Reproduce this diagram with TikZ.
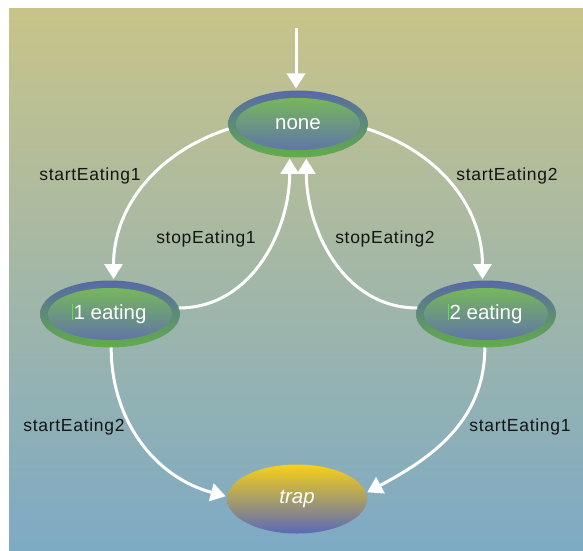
\documentclass[tikz,border=0pt]{standalone}
\usepackage{fontspec}
\setmainfont{Liberation Sans}
\usetikzlibrary{shapes.geometric,arrows.meta}

\definecolor{bgtop}{RGB}{200,196,137}
\definecolor{bgbot}{RGB}{125,170,197}
\definecolor{ringblue}{RGB}{88,104,168}
\definecolor{ringgreen}{RGB}{98,174,71}
\definecolor{fillgreen}{RGB}{122,192,80}
\definecolor{fillblue}{RGB}{93,108,179}
\definecolor{trapyellow}{RGB}{247,209,23}
\definecolor{trapblue}{RGB}{90,105,184}
\definecolor{labeltext}{RGB}{20,20,20}
\definecolor{caretgreen}{RGB}{90,230,60}

\tikzset{
  statenode/.style={ellipse, inner sep=0pt, outer sep=0pt,
    minimum width=140pt, minimum height=67pt,
    top color=ringblue, bottom color=ringgreen,
    text=white, font=\fontsize{20.5}{24}\selectfont,
    path picture={\shade[top color=fillgreen, bottom color=fillblue]
      (path picture bounding box.center) ellipse [x radius=62pt, y radius=26pt];}},
  trapnode/.style={ellipse, inner sep=0pt, outer sep=0pt,
    minimum width=140pt, minimum height=69pt,
    top color=trapyellow, bottom color=trapblue,
    text=white, font=\fontsize{20.5}{24}\selectfont\itshape},
  trans/.style={draw=white, line width=3pt,
    -{Triangle[length=15pt,width=18pt]}, shorten >=1.5pt},
  edgelabel/.style={text=labeltext,
    font=\addfontfeatures{LetterSpace=4}\fontsize{17.5}{20}\selectfont},
  caret/.style={draw=caretgreen, line width=0.9pt}
}

\begin{document}
\begin{tikzpicture}[x=1pt,y=1pt]
  \useasboundingbox (0,0) rectangle (583,550);
  % gradient backdrop
  \shade[top color=bgtop, bottom color=bgbot] (9,0) rectangle (583,541);

  % states
  \node[statenode] (none) at (298,426) {none};
  \node[statenode] (eat1) at (110,236) {1 eating};
  \node[statenode] (eat2) at (486,236) {2 eating};
  \node[trapnode]  (trap) at (297,51) {trap};

  % text carets in front of the eating labels
  \draw[caret] ([xshift=-1.2pt,yshift=-1pt]eat1.text) -- ++(0,16);
  \draw[caret] ([xshift=-1.2pt,yshift=-1pt]eat2.text) -- ++(0,16);

  % initial arrow
  \coordinate (init) at (296,522);
  \draw[trans, shorten >=2pt] (init) -- (none.north -| init);

  % transitions
  \draw[trans] (none.184) to[out=198, in=90] (eat1.84);
  \draw[trans] (eat1.5) to[out=0, in=-90] (none.256);
  \draw[trans] (eat2.175) to[out=180, in=-90] (none.284);
  \draw[trans] (none.356) to[out=-18, in=90] (eat2.96);
  \draw[trans] (eat1.272) to[out=-90, in=165] (trap.178);
  \draw[trans] (eat2.268) to[out=-90, in=28] (trap.5);

  % transition labels
  \node[edgelabel] (l1) at (90,374) {startEating1};
  \node[edgelabel] (l2) at (206,311) {stopEating1};
  \node[edgelabel] (l3) at (385,311) {stopEating2};
  \node[edgelabel] (l4) at (507,374) {startEating2};
  \node[edgelabel] (l5) at (74,123) {startEating2};
  \node[edgelabel] (l6) at (520,123) {startEating1};
\end{tikzpicture}
\end{document}
